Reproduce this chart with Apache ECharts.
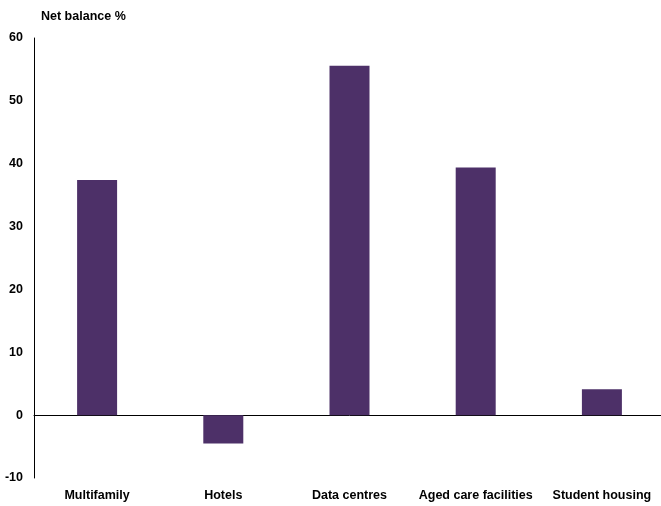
<!DOCTYPE html>
<html>
<head>
<meta charset="utf-8">
<script src="https://cdn.jsdelivr.net/npm/echarts@6/dist/echarts.min.js"></script>
<style>html,body{margin:0;padding:0;background:#fff;overflow:hidden}#c{width:665px;height:506px}</style>
</head>
<body>
<div id="c"></div>
<script>
const categories = ['Multifamily', 'Hotels', 'Data centres', 'Aged care facilities', 'Student housing'];
const netBalance = [37.4, -4.5, 55.6, 39.4, 4.1];
const yTicks = { min: -10, max: 60, interval: 10 };

const font = 'Liberation Sans, Arial, sans-serif';
const chart = echarts.init(document.getElementById('c'), null, { renderer: 'canvas' });
chart.setOption({
  animation: false,
  backgroundColor: '#ffffff',
  title: {
    text: 'Net balance %', left: 36, top: 5,
    textStyle: { fontFamily: font, fontSize: 12.5, fontWeight: 'bold', color: '#000' }
  },
  grid: { left: 34, right: 0, top: 38, bottom: 28 },
  xAxis: [{
    type: 'category', data: categories, position: 'bottom',
    axisLine: { show: false, onZero: false }, axisTick: { show: false },
    axisLabel: { margin: 11, fontFamily: font, fontSize: 12.5, fontWeight: 'bold', color: '#000', interval: 0 }
  }, {
    type: 'category', data: categories, position: 'bottom',
    axisLine: { show: true, onZero: true, lineStyle: { color: '#000', width: 1 } },
    axisTick: { show: false }, axisLabel: { show: false }
  }],
  yAxis: {
    type: 'value', min: yTicks.min, max: yTicks.max, interval: yTicks.interval,
    axisLine: { show: true, lineStyle: { color: '#000', width: 1 } },
    axisTick: { show: false }, splitLine: { show: false },
    axisLabel: { margin: 11, fontFamily: font, fontSize: 12.5, fontWeight: 'bold', color: '#000' }
  },
  series: [{
    type: 'bar', data: netBalance, barWidth: 40,
    itemStyle: { color: '#4d3068' }
  }]
});
</script>
</body>
</html>
